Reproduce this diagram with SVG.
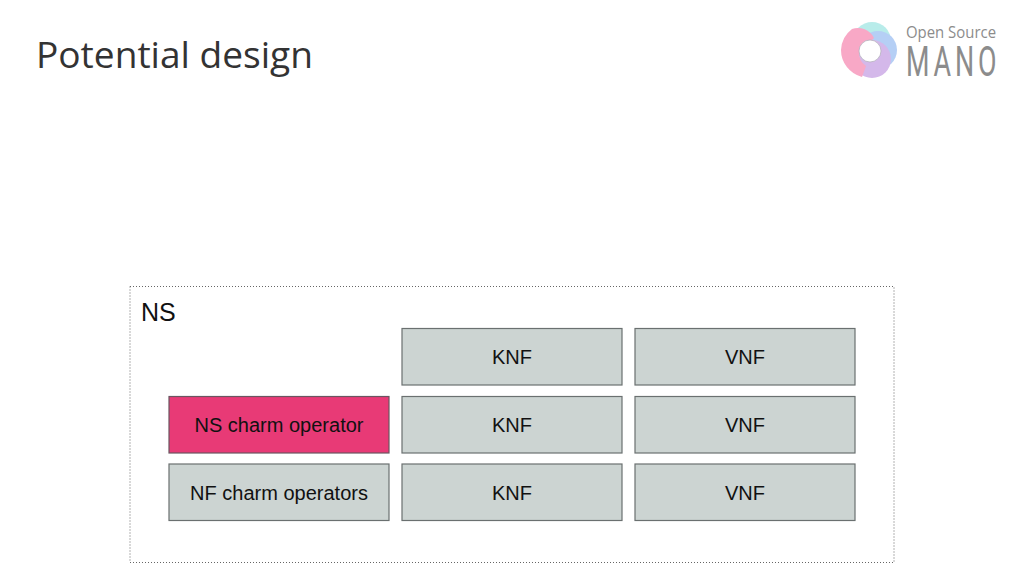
<svg xmlns="http://www.w3.org/2000/svg" width="1024" height="576" viewBox="0 0 1024 576">
<defs><style>
.box{fill:#ccd4d2;stroke:#6a7070;stroke-width:1.2}
.lbl{font-family:"Liberation Sans",Arial,sans-serif;font-size:20px;fill:#111;text-anchor:middle}
</style></defs>
<rect width="1024" height="576" fill="#fff"/>
<text x="36" y="68" font-family="'Open Sans','Noto Sans',sans-serif" font-size="36" fill="#333" textLength="277" lengthAdjust="spacingAndGlyphs">Potential design</text>
<g id="logo">
<circle cx="872" cy="41" r="19" fill="#b8ecea"/>
<circle cx="878" cy="50" r="19" fill="#b5cff5"/>
<circle cx="872" cy="59" r="19" fill="#d4b8ea"/>
<path d="M862 77 A28 28 0 0 1 841 50 A28 28 0 0 1 852 29 A18 18 0 0 1 874 38 L871 41 A11 11 0 0 0 859 52 A16 16 0 0 0 866 66Z" fill="#f8a8c6"/>
<circle cx="870" cy="51" r="11" fill="#fff" stroke="#b4b0bc" stroke-width=".8"/>
<text x="906" y="38" font-family="'Open Sans',sans-serif" font-size="17" fill="#8c8c8c" textLength="90" lengthAdjust="spacingAndGlyphs">Open Source</text>
<text transform="translate(906 76) scale(.64 1)" font-family="Roboto,sans-serif" font-size="42" letter-spacing="6" fill="#8c8c8c">MANO</text>
</g>
<g id="ns"><rect x="130" y="286.500" width="764" height="276" fill="none" stroke="#666" stroke-width="1" stroke-dasharray="1 2"/>
<text x="141" y="321" font-family="'Liberation Sans',Arial,sans-serif" font-size="25" fill="#111">NS</text></g>
<g id="knf1"><rect class="box" x="402" y="328.500" width="220" height="56.500"/><text class="lbl" x="512" y="364">KNF</text></g>
<g id="vnf1"><rect class="box" x="635" y="328.500" width="220" height="56.500"/><text class="lbl" x="745" y="364">VNF</text></g>
<g id="nsop"><rect x="169" y="396.500" width="220" height="56.500" fill="#e83a76" stroke="#6a5560" stroke-width="1.200"/><text class="lbl" x="279" y="432">NS charm operator</text></g>
<g id="knf2"><rect class="box" x="402" y="396.500" width="220" height="56.500"/><text class="lbl" x="512" y="432">KNF</text></g>
<g id="vnf2"><rect class="box" x="635" y="396.500" width="220" height="56.500"/><text class="lbl" x="745" y="432">VNF</text></g>
<g id="nfop"><rect class="box" x="169" y="464" width="220" height="56.500"/><text class="lbl" x="279" y="500">NF charm operators</text></g>
<g id="knf3"><rect class="box" x="402" y="464" width="220" height="56.500"/><text class="lbl" x="512" y="500">KNF</text></g>
<g id="vnf3"><rect class="box" x="635" y="464" width="220" height="56.500"/><text class="lbl" x="745" y="500">VNF</text></g>
<g id="connectors"/>
</svg>
